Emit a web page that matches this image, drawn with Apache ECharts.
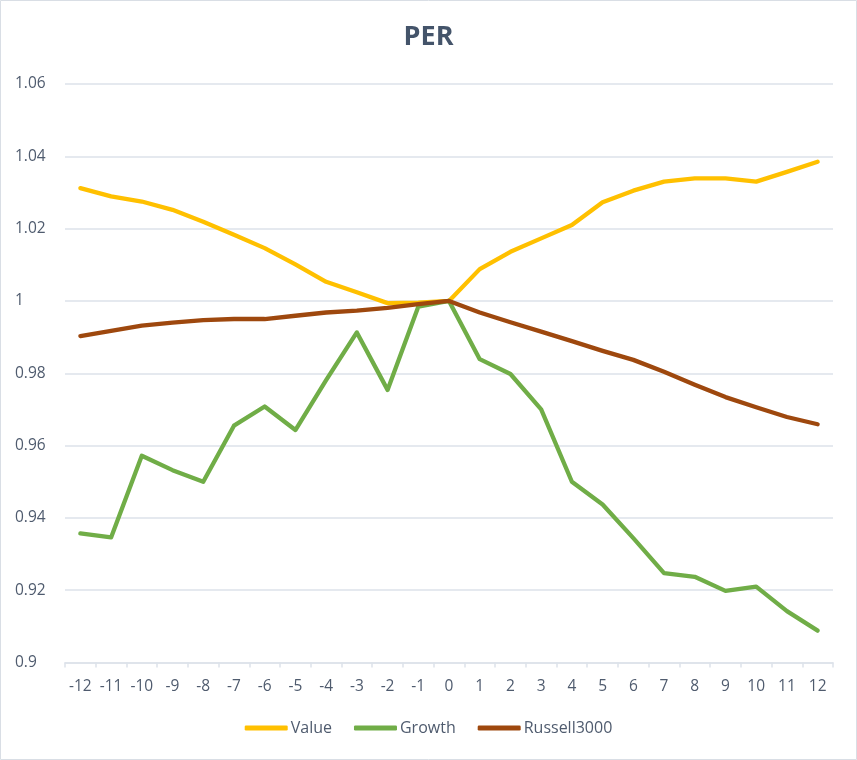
<!DOCTYPE html>
<html>
<head>
<meta charset="utf-8">
<script src="https://cdn.jsdelivr.net/npm/echarts@6/dist/echarts.min.js"></script>
<style>
html,body{margin:0;padding:0;background:#fff;}
#c{width:857px;height:760px;}
</style>
</head>
<body>
<div id="c"></div>
<script>
var categories = ['-12','-11','-10','-9','-8','-7','-6','-5','-4','-3','-2','-1','0','1','2','3','4','5','6','7','8','9','10','11','12'];
var valueSeries = [1.0312,1.0289,1.0275,1.0252,1.0219,1.0183,1.0146,1.0101,1.0053,1.0024,0.9994,0.9995,1.0,1.0088,1.0136,1.0173,1.0210,1.0273,1.0305,1.0330,1.0339,1.0339,1.0330,1.0357,1.0385];
var growthSeries = [0.9357,0.9346,0.9572,0.9532,0.9500,0.9655,0.9708,0.9643,0.9781,0.9913,0.9754,0.9984,1.0,0.9839,0.9798,0.9700,0.9500,0.9437,0.9344,0.9247,0.9237,0.9198,0.9210,0.9142,0.9088];
var russellSeries = [0.9903,0.9917,0.9932,0.9940,0.9947,0.9950,0.9950,0.9959,0.9968,0.9973,0.9981,0.9991,1.0,0.9968,0.9941,0.9915,0.9889,0.9862,0.9837,0.9804,0.9768,0.9734,0.9706,0.9679,0.9659];
var seriesNames = ['Value','Growth','Russell3000'];

var textColor = '#4F5B6E';
var gridColor = '#DDE2EA';
var font = '"Open Sans", "Liberation Sans", sans-serif';

var chart = echarts.init(document.getElementById('c'), null, {renderer:'canvas'});
function mk(name, data, color){
  return {name:name, type:'line', data:data, symbol:'none', showSymbol:false,
    lineStyle:{color:color, width:4.3, cap:'round', join:'round'}, itemStyle:{color:color}};
}
chart.setOption({
  backgroundColor:'#fff',
  animation:false,
  graphic:[{type:'rect', shape:{x:0.5,y:0.5,width:856,height:759}, style:{fill:'none', stroke:'#D9DEE5', lineWidth:1}, silent:true}],
  title:{text:'PER', left:'center', top:19, textStyle:{fontFamily:font, fontSize:27, fontWeight:'bold', color:'#44546A'}},
  legend:{bottom:19, left:'center', itemWidth:43, itemHeight:5, itemGap:22, icon:'roundRect',
    textStyle:{fontFamily:font, fontSize:16, color:textColor, padding:[0,0,0,-2]}, data:seriesNames},
  grid:{left:65, right:24, top:84, bottom:97.5, containLabel:false},
  xAxis:{type:'category', data:categories, boundaryGap:true,
    axisLine:{lineStyle:{color:gridColor, width:1.5}},
    axisTick:{show:true, length:5, lineStyle:{color:gridColor, width:1.5}},
    axisLabel:{fontFamily:font, fontSize:15.5, color:textColor, margin:16, interval:0},
    splitLine:{show:false}},
  yAxis:{type:'value', min:0.9, max:1.06, interval:0.02,
    axisLine:{show:false}, axisTick:{show:false},
    axisLabel:{fontFamily:font, fontSize:15.5, color:textColor, align:'left', margin:50,
      formatter:function(v){return String(+v.toFixed(2));}},
    splitLine:{lineStyle:{color:gridColor, width:1.5}}},
  series:[mk(seriesNames[0], valueSeries, '#FFC000'), mk(seriesNames[1], growthSeries, '#70AD47'), mk(seriesNames[2], russellSeries, '#9E480E')]
});
</script>
</body>
</html>
